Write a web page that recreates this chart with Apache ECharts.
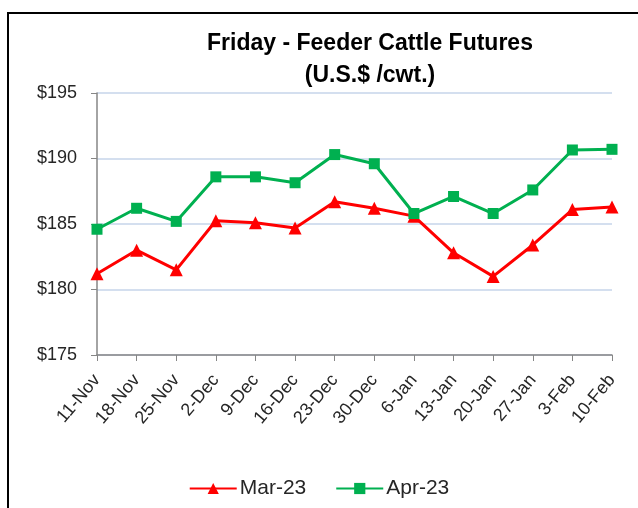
<!DOCTYPE html>
<html>
<head>
<meta charset="utf-8">
<script src="https://cdn.jsdelivr.net/npm/echarts@6/dist/echarts.min.js"></script>
<style>
  html, body { margin: 0; padding: 0; background: #fff; }
  .frame {
    position: absolute; left: 7px; top: 12px; width: 700px; height: 600px;
    border: 2px solid #000; box-sizing: border-box;
  }
  #chartBox { position: absolute; left: 0; top: 0; width: 638px; height: 508px; }
</style>
</head>
<body>
<div class="frame"></div>
<div id="chartBox"></div>
<script>
  var weeks = ['11-Nov', '18-Nov', '25-Nov', '2-Dec', '9-Dec', '16-Dec', '23-Dec', '30-Dec', '6-Jan', '13-Jan', '20-Jan', '27-Jan', '3-Feb', '10-Feb']
  var mar23 = [181.2, 183.0, 181.5, 185.25, 185.1, 184.7, 186.7, 186.2, 185.6, 182.8, 181.0, 183.4, 186.1, 186.3]
  var apr23 = [184.6, 186.2, 185.2, 188.6, 188.6, 188.15, 190.3, 189.6, 185.8, 187.1, 185.8, 187.6, 190.65, 190.7]

  var font = 'Liberation Sans'

  var option = {
    animation: false,
    title: {
      text: 'Friday - Feeder Cattle Futures\n(U.S.$ /cwt.)',
      left: 365,
      textAlign: 'center',
      top: 23,
      textStyle: { fontFamily: font, fontSize: 23, fontWeight: 'bold', color: '#000', lineHeight: 32 }
    },
    legend: {
      top: 473,
      left: 'center',
      itemWidth: 47,
      itemHeight: 14,
      itemGap: 29,
      textStyle: { fontFamily: font, fontSize: 21, color: '#262626', padding: [0, 0, 0, -2] },
      data: ['Mar-23', 'Apr-23']
    },
    grid: { left: 97, right: 26, top: 93, bottom: 153 },
    xAxis: {
      type: 'category',
      data: weeks,
      boundaryGap: false,
      axisLine: { lineStyle: { color: '#868686', width: 1.5 } },
      axisTick: { alignWithLabel: true, length: 6, lineStyle: { color: '#868686' } },
      axisLabel: { rotate: 50, fontFamily: font, fontSize: 18, color: '#262626', margin: 22, interval: 0 }
    },
    yAxis: {
      type: 'value',
      min: 175,
      max: 195,
      interval: 5,
      axisLine: { show: true, lineStyle: { color: '#868686', width: 1.5 } },
      axisTick: { show: true, length: 6, lineStyle: { color: '#868686' } },
      splitLine: { lineStyle: { color: '#c6d4ea', width: 1.5 } },
      axisLabel: {
        fontFamily: font, fontSize: 18, color: '#262626', margin: 20,
        formatter: function (v) { return '$' + v }
      }
    },
    series: [
      {
        name: 'Mar-23',
        type: 'line',
        data: mar23,
        symbol: 'triangle',
        symbolSize: 13,
        itemStyle: { color: '#ff0000' },
        lineStyle: { color: '#ff0000', width: 3 }
      },
      {
        name: 'Apr-23',
        type: 'line',
        data: apr23,
        symbol: 'rect',
        symbolSize: 11,
        itemStyle: { color: '#00b050' },
        lineStyle: { color: '#00b050', width: 3 }
      }
    ]
  }

  var chartLine = echarts.init(document.getElementById('chartBox'))
  chartLine.setOption(option)
</script>
</body>
</html>
